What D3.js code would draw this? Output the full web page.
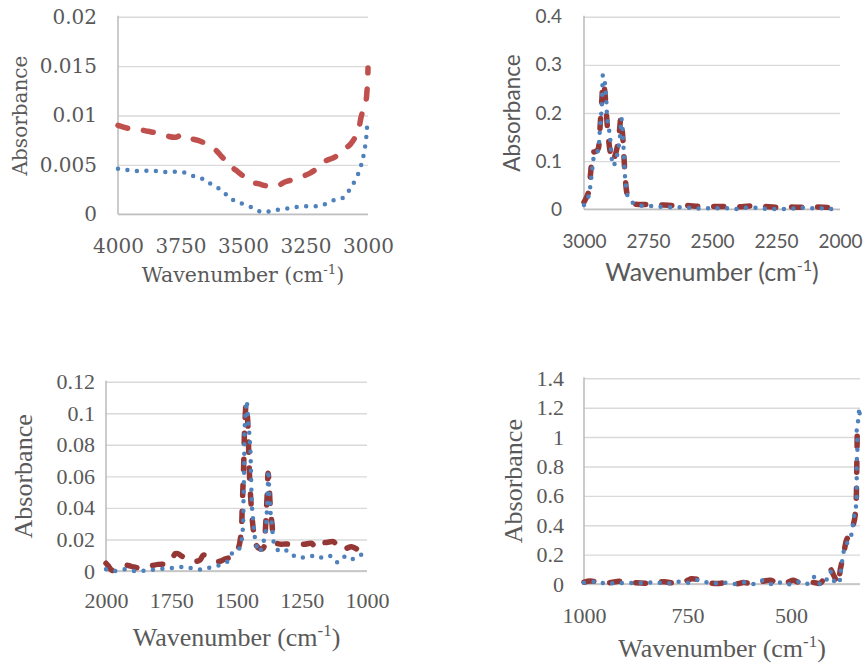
<!DOCTYPE html>
<html>
<head>
<meta charset="utf-8">
<script src="https://cdn.jsdelivr.net/npm/d3@7"></script>
<style>
  body { margin: 0; background: #fff; }
</style>
</head>
<body>
<svg id="chart" width="868" height="667"></svg>
<script>
// ---- data (wavenumber cm-1, absorbance) ----

// panel 1 : 4000 - 3000
const p1BlueWn  = [4000, 3965, 3930, 3895, 3860, 3825, 3790, 3747, 3712, 3680, 3650, 3621, 3588, 3563, 3543, 3519, 3481, 3452, 3416, 3379, 3339, 3299, 3259, 3219, 3189, 3165, 3139, 3105, 3079, 3059, 3039, 3025, 3016, 3009, 3005, 3002];
const p1BlueAbs = [0.0046, 0.0045, 0.0044, 0.0044, 0.0044, 0.0043, 0.0043, 0.0043, 0.0040, 0.0037, 0.0035, 0.0029, 0.0025, 0.0019, 0.0015, 0.0012, 0.0009, 0.0005, 0.0002, 0.0004, 0.0005, 0.0007, 0.0008, 0.0008, 0.0009, 0.0011, 0.0014, 0.0016, 0.0023, 0.0031, 0.0041, 0.0052, 0.0062, 0.0073, 0.0084, 0.0095];
const p1RedWn   = [4000, 3960, 3920, 3880, 3840, 3800, 3770, 3745, 3730, 3700, 3670, 3635, 3605, 3580, 3560, 3545, 3520, 3485, 3460, 3440, 3410, 3385, 3360, 3330, 3300, 3265, 3230, 3200, 3170, 3140, 3120, 3095, 3070, 3040, 3028, 3016, 3008, 3004, 3001, 3000];
const p1RedAbs  = [0.0090, 0.0087, 0.0086, 0.0084, 0.0082, 0.0079, 0.0078, 0.0080, 0.0077, 0.0076, 0.0074, 0.0069, 0.0064, 0.0057, 0.0054, 0.0048, 0.0043, 0.0036, 0.0032, 0.0031, 0.0029, 0.0028, 0.0029, 0.0033, 0.0035, 0.0038, 0.0042, 0.0047, 0.0054, 0.0057, 0.0060, 0.0066, 0.0071, 0.0084, 0.0098, 0.0109, 0.0115, 0.0125, 0.0137, 0.0148];

// panel 2 : 3000 - 2000
const p2BlueWn  = [3000, 2983, 2975, 2970, 2965, 2959, 2950, 2945, 2941, 2938, 2934, 2931, 2929, 2928, 2926, 2920, 2916, 2913, 2911, 2907, 2900, 2896, 2893, 2886, 2877, 2868, 2861, 2857, 2854, 2849, 2847, 2844, 2841, 2837, 2831, 2807, 2772, 2731, 2692, 2648, 2604, 2564, 2523, 2482, 2441, 2400, 2361, 2319, 2283, 2244, 2207, 2172, 2143, 2107, 2068, 2036, 2003];
const p2BlueAbs = [0.009, 0.026, 0.049, 0.073, 0.095, 0.116, 0.120, 0.121, 0.140, 0.165, 0.189, 0.210, 0.234, 0.255, 0.279, 0.268, 0.248, 0.227, 0.203, 0.180, 0.158, 0.136, 0.113, 0.090, 0.099, 0.120, 0.144, 0.166, 0.189, 0.165, 0.144, 0.110, 0.076, 0.054, 0.030, 0.0125, 0.007, 0.007, 0.005, 0.004, 0.004, 0.002, 0.002, 0.002, 0.002, 0.0006, 0.0034, 0.0027, 0.0006, 0.0006, 0.0006, 0.002, 0.0034, 0.002, 0.002, 0.0006, 0];
const p2RedWn   = [3000, 2990, 2980, 2975, 2970, 2965, 2955, 2945, 2940, 2935, 2930, 2926, 2920, 2915, 2910, 2905, 2898, 2890, 2880, 2870, 2862, 2856, 2850, 2846, 2842, 2838, 2833, 2825, 2810, 2780, 2740, 2700, 2650, 2600, 2550, 2500, 2450, 2400, 2350, 2300, 2250, 2200, 2150, 2100, 2050, 2000];
const p2RedAbs  = [0.015, 0.025, 0.040, 0.070, 0.100, 0.118, 0.120, 0.125, 0.150, 0.190, 0.230, 0.262, 0.250, 0.220, 0.180, 0.150, 0.120, 0.100, 0.110, 0.130, 0.160, 0.190, 0.160, 0.130, 0.090, 0.060, 0.035, 0.020, 0.012, 0.010, 0.010, 0.009, 0.008, 0.008, 0.006, 0.006, 0.006, 0.005, 0.007, 0.006, 0.004, 0.005, 0.004, 0.005, 0.004, 0.003];

// panel 3 : 2000 - 1000
const p3BlueWn  = [2000, 1982, 1966, 1946, 1921, 1892, 1860, 1828, 1796, 1761, 1727, 1694, 1659, 1625, 1593, 1561, 1531, 1515, 1493, 1480, 1476, 1474, 1473, 1471, 1470, 1469, 1467, 1464, 1461, 1455, 1451, 1448, 1446, 1445, 1444, 1442, 1440, 1436, 1432, 1427, 1413, 1391, 1387, 1384, 1382, 1381, 1379, 1378, 1376, 1375, 1372, 1369, 1365, 1361, 1355, 1333, 1302, 1272, 1241, 1212, 1184, 1161, 1135, 1114, 1088, 1065, 1043, 1025, 1005];
const p3BlueAbs = [0.0011, 0.0004, 0, 0.0006, 0.0011, 0, 0.0002, 0.0006, 0.0013, 0.0017, 0.0023, 0.0027, 0.0011, 0.0011, 0.0027, 0.0038, 0.0065, 0.0116, 0.0133, 0.0197, 0.0264, 0.0334, 0.0476, 0.0619, 0.0756, 0.089, 0.0957, 0.102, 0.108, 0.094, 0.0873, 0.080, 0.0735, 0.066, 0.0594, 0.0455, 0.0391, 0.0319, 0.0249, 0.0186, 0.0119, 0.0222, 0.0285, 0.0366, 0.0429, 0.0503, 0.0577, 0.064, 0.0572, 0.0503, 0.0429, 0.0361, 0.0302, 0.0235, 0.0171, 0.0122, 0.0129, 0.0087, 0.0087, 0.0095, 0.008, 0.0097, 0.0091, 0.0055, 0.0091, 0.007, 0.0087, 0.0101, 0.0116];
const p3RedWn   = [2000, 1990, 1980, 1970, 1955, 1935, 1915, 1895, 1870, 1850, 1830, 1800, 1770, 1750, 1735, 1725, 1705, 1685, 1665, 1640, 1627, 1610, 1589, 1570, 1545, 1520, 1500, 1490, 1482, 1478, 1475, 1472, 1470, 1467, 1463, 1458, 1455, 1452, 1450, 1447, 1443, 1438, 1430, 1423, 1410, 1397, 1392, 1388, 1385, 1382, 1379, 1375, 1372, 1368, 1364, 1360, 1350, 1330, 1314, 1290, 1269, 1240, 1212, 1199, 1187, 1160, 1129, 1115, 1104, 1085, 1059, 1040, 1027, 1010, 1000];
const p3RedAbs  = [0.0049, 0.003, 0.0008, 0.0002, 0.001, 0.0035, 0.0035, 0.0025, 0.002, 0.0025, 0.0032, 0.0042, 0.0045, 0.006, 0.011, 0.011, 0.009, 0.008, 0.006, 0.007, 0.0101, 0.009, 0.0074, 0.006, 0.0075, 0.009, 0.012, 0.016, 0.025, 0.040, 0.055, 0.070, 0.085, 0.097, 0.106, 0.098, 0.085, 0.070, 0.060, 0.050, 0.040, 0.030, 0.020, 0.016, 0.014, 0.0145, 0.020, 0.030, 0.040, 0.050, 0.062, 0.055, 0.045, 0.035, 0.030, 0.023, 0.018, 0.017, 0.0171, 0.017, 0.0171, 0.017, 0.0175, 0.0154, 0.0186, 0.018, 0.0186, 0.016, 0.0137, 0.014, 0.0154, 0.014, 0.0122, 0.012, 0.012];

// panel 4 : 1000 - 334
const p4BlueWn  = [1000, 974, 949, 923, 897, 873, 847, 823, 796, 772, 748, 725, 703, 679, 657, 633, 610, 590, 570, 550, 534, 518, 499, 482, 467, 455, 442, 430, 418, 412, 405, 400, 396, 392, 386, 382, 380, 377.7, 373.8, 367.3, 361.7, 355.9, 351.1, 347.9, 343.1, 341.4, 341.4, 341.4, 341.4, 339.9, 339.9, 341.4, 337.6, 335.1, 334.3];
const p4BlueAbs = [0.009, 0.016, 0.005, 0.005, 0.009, 0.005, 0.009, 0.009, 0.005, 0.016, 0.009, 0.027, 0.012, 0.005, 0.009, 0, 0.012, 0, 0.023, 0, 0.016, 0, 0, 0.016, 0, 0.01, 0.05, 0, 0.01, 0.045, 0.085, 0.06, 0.02, 0, 0.01, 0.027, 0.084, 0.13, 0.21, 0.266, 0.29, 0.32, 0.39, 0.46, 0.53, 0.605, 0.67, 0.75, 0.83, 0.90, 0.98, 1.05, 1.12, 1.20, 1.15];
const p4RedWn   = [1000, 985, 970, 955, 935, 915, 895, 875, 850, 825, 805, 790, 765, 750, 740, 725, 710, 690, 670, 650, 640, 630, 615, 600, 580, 565, 550, 535, 520, 505, 495, 485, 475, 465, 455, 445, 430, 420, 412, 405, 398, 392, 388, 384, 381, 378, 372, 366, 360, 355, 350, 346, 343, 342, 341.5, 341, 340.5, 340, 337, 333.6];
const p4RedAbs  = [0.012, 0.02, 0.015, 0.005, 0.01, 0.018, 0.015, 0.008, 0.005, 0.012, 0.015, 0.008, 0.01, 0.025, 0.035, 0.03, 0.015, 0.005, 0.005, 0.02, 0.015, 0.002, 0.01, 0.005, 0.01, 0.02, 0.025, 0.01, 0.005, 0.015, 0.025, 0.015, 0.005, 0.005, 0.015, 0.01, 0.005, 0.04, 0.09, 0.10, 0.065, 0.03, 0, 0.04, 0.10, 0.14, 0.22, 0.30, 0.33, 0.35, 0.40, 0.45, 0.55, 0.65, 0.75, 0.85, 0.95, 1.02, 1.08, 1.10];

// axis ticks
const p1XTicks = [4000, 3750, 3500, 3250, 3000];
const p1YTicks = [0, 0.005, 0.01, 0.015, 0.02];
const p2XTicks = [3000, 2750, 2500, 2250, 2000];
const p2YTicks = [0, 0.1, 0.2, 0.3, 0.4];
const p3XTicks = [2000, 1750, 1500, 1250, 1000];
const p3YTicks = [0, 0.02, 0.04, 0.06, 0.08, 0.1, 0.12];
const p4XTicks = [1000, 750, 500];
const p4YTicks = [0, 0.2, 0.4, 0.6, 0.8, 1, 1.2, 1.4];

const zip = (a, b) => a.map((v, i) => [v, b[i]]);

const panels = [
  { left: 118, right: 368, top: 16.7, bottom: 214.3, xDomain: [4000, 3000], xTicks: p1XTicks, yTicks: p1YTicks,
    red: zip(p1RedWn, p1RedAbs), blue: zip(p1BlueWn, p1BlueAbs), redColor: "#c0504d",
    font: "DejaVu Serif", tickSize: 20, titleSize: 20.5, yTitleSize: 20, yLabelGap: 21, xLabelY: 253,
    xTitleY: 282, yTitleX: 27 },
  { left: 584, right: 840, top: 16.7, bottom: 209.3, xDomain: [3000, 2000], xTicks: p2XTicks, yTicks: p2YTicks,
    red: zip(p2RedWn, p2RedAbs), blue: zip(p2BlueWn, p2BlueAbs), redColor: "#953735",
    font: "Lato", tickSize: 19, titleSize: 25, yTitleSize: 22.5, yLabelGap: 22, xLabelY: 248,
    xTitleY: 281, yTitleX: 520 },
  { left: 106, right: 367, top: 381.7, bottom: 571, xDomain: [2000, 1000], xTicks: p3XTicks, yTicks: p3YTicks,
    red: zip(p3RedWn, p3RedAbs), blue: zip(p3BlueWn, p3BlueAbs), redColor: "#953735",
    font: "Liberation Serif", tickSize: 22, titleSize: 26, yTitleSize: 26, yLabelGap: 11, xLabelY: 608,
    xTitleY: 646, yTitleX: 32 },
  { left: 584, right: 860, top: 378.3, bottom: 584, xDomain: [1000, 333.5], xTicks: p4XTicks, yTicks: p4YTicks,
    red: zip(p4RedWn, p4RedAbs), blue: zip(p4BlueWn, p4BlueAbs), redColor: "#953735",
    font: "Liberation Serif", tickSize: 22, titleSize: 26, yTitleSize: 26, yLabelGap: 20, xLabelY: 623,
    xTitleY: 657, yTitleX: 522 }
];

const svg = d3.select("#chart");
const textColor = "#595959";

function drawPanel(p) {
  const x = d3.scaleLinear().domain(p.xDomain).range([p.left, p.right]);
  const y = d3.scaleLinear().domain([0, d3.max(p.yTicks)]).range([p.bottom, p.top]);
  const g = svg.append("g").attr("font-family", p.font);

  // horizontal gridlines + y labels
  const yAxis = g.append("g")
    .attr("transform", `translate(${p.left},0)`)
    .call(d3.axisLeft(y).tickValues(p.yTicks).tickSize(-(p.right - p.left))
      .tickPadding(p.yLabelGap).tickFormat(d => String(d)));
  yAxis.select(".domain").remove();
  yAxis.selectAll(".tick line").attr("stroke", "#d9d9d9").attr("stroke-width", 1.4);
  yAxis.selectAll(".tick text").attr("fill", textColor).attr("font-size", p.tickSize)
    .attr("font-family", p.font);

  // x labels
  const xAxis = g.append("g")
    .attr("transform", `translate(0,${p.bottom})`)
    .call(d3.axisBottom(x).tickValues(p.xTicks).tickSize(0).tickFormat(d => String(d)));
  xAxis.select(".domain").remove();
  xAxis.selectAll(".tick text").attr("fill", textColor).attr("font-size", p.tickSize)
    .attr("font-family", p.font).attr("dy", null).attr("y", p.xLabelY - p.bottom);

  // axis lines
  g.append("line").attr("x1", p.left).attr("x2", p.right).attr("y1", p.bottom).attr("y2", p.bottom)
    .attr("stroke", "#bfbfbf").attr("stroke-width", 1.6);
  g.append("line").attr("x1", p.left).attr("x2", p.left).attr("y1", p.top - 1).attr("y2", p.bottom)
    .attr("stroke", "#bfbfbf").attr("stroke-width", 1.6);

  const line = d3.line().x(d => x(d[0])).y(d => y(d[1])).curve(d3.curveCatmullRom.alpha(0.5));

  g.append("path").attr("d", line(p.red)).attr("fill", "none")
    .attr("stroke", p.redColor).attr("stroke-width", 5.5)
    .attr("stroke-linecap", "round").attr("stroke-dasharray", "10 16");
  g.append("path").attr("d", line(p.blue)).attr("fill", "none")
    .attr("stroke", "#4f81bd").attr("stroke-width", 4.5)
    .attr("stroke-linecap", "round").attr("stroke-dasharray", "0 9.5");

  // titles
  const xt = g.append("text").attr("x", (p.left + p.right) / 2).attr("y", p.xTitleY)
    .attr("text-anchor", "middle").attr("fill", textColor).attr("font-size", p.titleSize);
  xt.append("tspan").text("Wavenumber (cm");
  xt.append("tspan").attr("dy", -p.titleSize * 0.4).attr("font-size", p.titleSize * 0.65).text("-1");
  xt.append("tspan").attr("dy", p.titleSize * 0.4).text(")");

  g.append("text")
    .attr("transform", `translate(${p.yTitleX},${(p.top + p.bottom) / 2}) rotate(-90)`)
    .attr("text-anchor", "middle").attr("fill", textColor).attr("font-size", p.yTitleSize)
    .text("Absorbance");
}

panels.forEach(drawPanel);
</script>
</body>
</html>
